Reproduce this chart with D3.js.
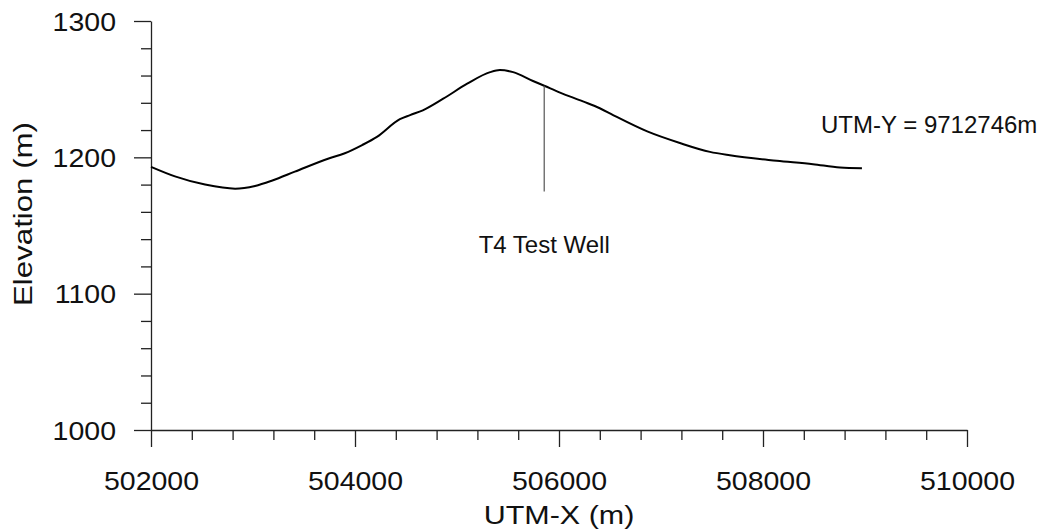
<!DOCTYPE html>
<html>
<head>
<meta charset="utf-8">
<script src="https://cdn.jsdelivr.net/npm/d3@7"></script>
<style>
  html, body { margin: 0; padding: 0; background: #fff; }
  svg { display: block; }
  text { font-family: "Liberation Sans", Arial, sans-serif; fill: #111; }
</style>
</head>
<body>
<svg id="chart" width="1045" height="531"></svg>
<script>
// ---- data ----
const utmX = [502000, 502235, 502530, 502825, 503020, 503190, 503410, 503735, 503900, 504070,
              504215, 504440, 504540, 504665, 504865, 505100, 505325, 505420, 505550, 505745,
              505855, 506010, 506235, 506400, 506530, 506865, 507185, 507480, 507675, 508135,
              508490, 508755, 508970];
const elevation = [1193, 1186, 1180, 1177, 1179, 1183, 1189.5, 1199, 1203, 1209,
                   1215, 1228, 1231, 1234.5, 1243, 1254, 1262.5, 1264, 1262.5, 1256,
                   1252.5, 1247.5, 1241, 1236, 1231, 1219, 1210.5, 1204, 1201.5, 1197.5,
                   1195, 1192.5, 1192];
const xTickValues = [502000, 504000, 506000, 508000, 510000];
const yTickValues = [1000, 1100, 1200, 1300];
const wellX = [505855];
const wellBottom = [1175];
const wellLabel = ["T4 Test Well"];
const sectionLabel = ["UTM-Y = 9712746m"];
const xTitle = "UTM-X (m)";
const yTitle = "Elevation (m)";

// ---- layout ----
const svg = d3.select("#chart");
const mLeft = 151, mRight = 967, mTop = 21, mBottom = 430;

const x = d3.scaleLinear().domain([502000, 510000]).range([mLeft, mRight]);
const y = d3.scaleLinear().domain([1000, 1300]).range([mBottom, mTop]);

const axisColor = "#222";

// minor ticks
const xMinor = d3.range(502000, 510001, 400).filter(v => !xTickValues.includes(v));
const yMinor = d3.range(1000, 1301, 20).filter(v => !yTickValues.includes(v));

const gxMinor = svg.append("g").attr("transform", `translate(0,${mBottom})`)
  .call(d3.axisBottom(x).tickValues(xMinor).tickSize(10).tickFormat(""));
gxMinor.select(".domain").remove();
const gyMinor = svg.append("g").attr("transform", `translate(${mLeft},0)`)
  .call(d3.axisLeft(y).tickValues(yMinor).tickSize(10).tickFormat(""));
gyMinor.select(".domain").remove();

const gx = svg.append("g").attr("transform", `translate(0,${mBottom})`)
  .call(d3.axisBottom(x).tickValues(xTickValues).tickSize(17).tickSizeOuter(0).tickFormat(d3.format("d")));
const gy = svg.append("g").attr("transform", `translate(${mLeft},0)`)
  .call(d3.axisLeft(y).tickValues(yTickValues).tickSize(17).tickSizeOuter(0).tickFormat(d3.format("d")));

svg.selectAll(".tick line, .domain").attr("stroke", axisColor).attr("stroke-width", 1.3);

gx.selectAll(".tick text")
  .attr("y", null).attr("dy", null).attr("x", 0)
  .attr("font-size", 25)
  .attr("font-family", "Liberation Sans, Arial, sans-serif")
  .attr("fill", "#111")
  .attr("text-anchor", "middle")
  .attr("transform", "translate(0,60) scale(1.14,1)");

gy.selectAll(".tick text")
  .attr("x", 0).attr("dy", null).attr("y", 0)
  .attr("font-size", 25)
  .attr("font-family", "Liberation Sans, Arial, sans-serif")
  .attr("fill", "#111")
  .attr("text-anchor", "end")
  .attr("transform", "translate(-35,9) scale(1.14,1)");

// axis titles
svg.append("text")
  .attr("text-anchor", "middle")
  .attr("font-size", 25)
  .attr("transform", `translate(${(mLeft + mRight) / 2},524) scale(1.22,1)`)
  .text(xTitle);

svg.append("text")
  .attr("text-anchor", "middle")
  .attr("font-size", 25)
  .attr("transform", `translate(32,214) rotate(-90) scale(1.25,1)`)
  .text(yTitle);

// terrain profile
const line = d3.line()
  .x((d, i) => x(utmX[i]))
  .y((d, i) => y(elevation[i]))
  .curve(d3.curveMonotoneX);

svg.append("path")
  .datum(elevation)
  .attr("d", line)
  .attr("fill", "none")
  .attr("stroke", "#000")
  .attr("stroke-width", 2);

// well marker
const wellTop = (() => {
  const wx = wellX[0];
  const i = d3.bisectLeft(utmX, wx);
  const t = (wx - utmX[i - 1]) / (utmX[i] - utmX[i - 1]);
  return elevation[i - 1] + t * (elevation[i] - elevation[i - 1]);
})();

svg.append("line")
  .attr("x1", x(wellX[0])).attr("x2", x(wellX[0]))
  .attr("y1", y(wellTop)).attr("y2", y(wellBottom[0]))
  .attr("stroke", "#555").attr("stroke-width", 1.2);

svg.append("text")
  .attr("x", x(wellX[0]))
  .attr("y", 253)
  .attr("text-anchor", "middle")
  .attr("font-size", 24)
  .text(wellLabel[0]);

svg.append("text")
  .attr("x", 821)
  .attr("y", 133)
  .attr("text-anchor", "start")
  .attr("font-size", 24)
  .text(sectionLabel[0]);
</script>
</body>
</html>
